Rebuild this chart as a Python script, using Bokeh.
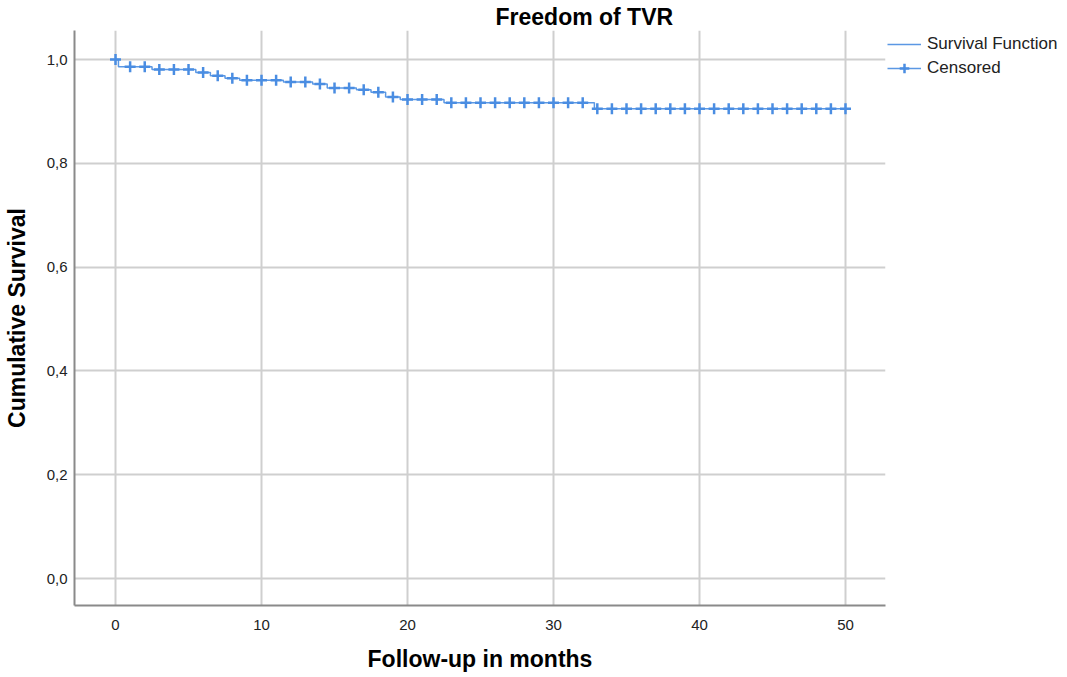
from bokeh.plotting import figure
from bokeh.models import (Range1d, FixedTicker, CustomJSTickFormatter, Legend, LegendItem)
from bokeh.embed import file_html
from bokeh.resources import INLINE

# ---- data ----
step_times = [0, 0.2, 2.5, 5.5, 6.5, 7.5, 8.5, 11.5, 13.5, 14.5, 16.5, 17.5, 18.5, 19.5, 22.5, 32.8, 50]
step_surv = [1.0, 0.986, 0.981, 0.975, 0.969, 0.964, 0.960, 0.957, 0.953, 0.945, 0.942, 0.937,
             0.928, 0.923, 0.917, 0.905, 0.905]
censored_times = list(range(0, 51))
x_ticks = [0, 10, 20, 30, 40, 50]
y_ticks = [0.0, 0.2, 0.4, 0.6, 0.8, 1.0]


def surv_at(t):
    s = step_surv[0]
    for tt, ss in zip(step_times, step_surv):
        if tt <= t:
            s = ss
    return s


censored_surv = [surv_at(t) for t in censored_times]

FONT = "Liberation Sans"
LINE_COL = "#5b98e4"
MARK_COL = "#4a8de2"

p = figure(width=1051, height=669, output_backend="svg", toolbar_location=None,
           x_range=Range1d(-2.81, 52.74), y_range=Range1d(-0.052, 1.056),
           min_border_left=67, min_border_right=10, min_border_top=0, min_border_bottom=10,
           title="Freedom of TVR")
p.frame_width = 811
p.frame_height = 575

p.title.text_font = FONT
p.title.text_font_size = "23px"
p.title.text_font_style = "bold"
p.title.align = "left"
p.title.offset = 421
p.title.standoff = 2
p.title.text_color = "#000000"

p.outline_line_color = None
p.background_fill_color = "white"

step_r = p.step(x=step_times, y=step_surv, mode="after", line_color=LINE_COL, line_width=1.5)
cens_r = p.scatter(x=censored_times, y=censored_surv, marker="cross", size=11,
                   line_color=MARK_COL, line_width=2.5)

for ax in (p.xaxis[0], p.yaxis[0]):
    ax.axis_line_color = "#8a8a8a"
    ax.axis_line_width = 2
    ax.major_tick_line_color = None
    ax.minor_tick_line_color = None
    ax.major_tick_out = 0
    ax.major_tick_in = 0
    ax.major_label_text_font = FONT
    ax.major_label_text_font_size = "15px"
    ax.major_label_text_color = "#222222"
    ax.axis_label_text_font = FONT
    ax.axis_label_text_font_size = "23px"
    ax.axis_label_text_font_style = "bold"
    ax.axis_label_text_color = "#000000"

p.xaxis.ticker = FixedTicker(ticks=x_ticks)
p.yaxis.ticker = FixedTicker(ticks=y_ticks)
p.yaxis.formatter = CustomJSTickFormatter(code="return tick.toFixed(1).replace('.', ',');")
p.xaxis.axis_label = "Follow-up in months"
p.yaxis.axis_label = "Cumulative Survival"
p.xaxis.major_label_standoff = 14
p.xaxis.axis_label_standoff = 13
p.yaxis.major_label_standoff = 7
p.yaxis.axis_label_standoff = 14

p.xgrid.grid_line_color = "#cfcfcf"
p.ygrid.grid_line_color = "#cfcfcf"
p.xgrid.grid_line_width = 2
p.ygrid.grid_line_width = 2

legend = Legend(items=[
    LegendItem(label="Survival Function", renderers=[step_r]),
    LegendItem(label="Censored", renderers=[step_r, cens_r]),
], location="top_left")
legend.label_text_font = FONT
legend.label_text_font_size = "17px"
legend.label_text_color = "#222222"
legend.glyph_width = 34
legend.glyph_height = 24
legend.label_height = 24
legend.label_standoff = 6
legend.spacing = 0
legend.padding = 0
legend.margin = 2
legend.border_line_color = None
legend.background_fill_alpha = 0
p.add_layout(legend, "right")

open("out.html", "w").write(file_html(p, INLINE))
